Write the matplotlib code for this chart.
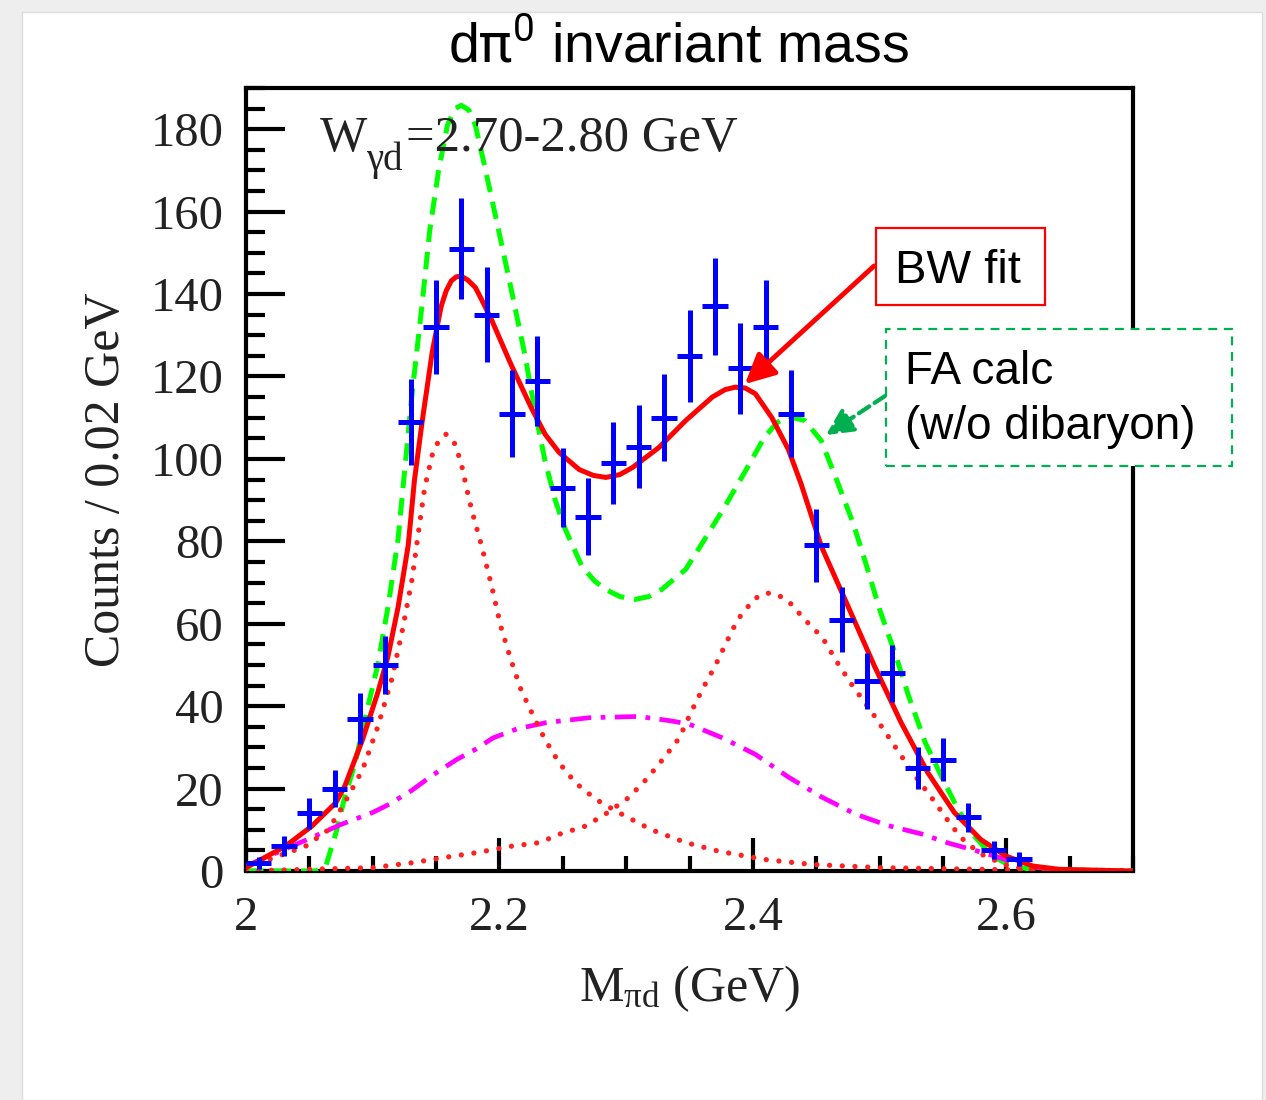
import matplotlib
matplotlib.use('Agg')
import matplotlib.pyplot as plt
from matplotlib.patches import Rectangle
from matplotlib.ticker import MultipleLocator, FixedLocator

plt.rcParams['mathtext.fontset'] = 'custom'
plt.rcParams['mathtext.rm'] = 'Liberation Serif'
plt.rcParams['mathtext.it'] = 'Liberation Serif:italic'
plt.rcParams['mathtext.sf'] = 'Roboto'
plt.rcParams['font.family'] = ['Liberation Serif', 'DejaVu Serif']

# Measured d-pi0 spectrum (bin centres, counts, stat. errors)
mass = [2.01, 2.03, 2.05, 2.07, 2.09, 2.11, 2.13, 2.15, 2.17, 2.19, 2.21, 2.23,
        2.25, 2.27, 2.29, 2.31, 2.33, 2.35, 2.37, 2.39, 2.41, 2.43, 2.45, 2.47,
        2.49, 2.51, 2.53, 2.55, 2.57, 2.59, 2.61]
counts = [2, 6, 14, 20, 37, 50, 109, 132, 151, 135, 111, 119,
          93, 86, 99, 103, 110, 125, 137, 122, 132, 111, 79, 61,
          46, 48, 25, 27, 13, 5, 3]
count_err = [1.4, 2.4, 3.7, 4.5, 6.1, 7.1, 10.4, 11.5, 12.3, 11.6, 10.5, 10.9,
             9.6, 9.3, 9.9, 10.1, 10.5, 11.2, 11.7, 11.0, 11.5, 10.5, 8.9, 7.8,
             6.8, 6.9, 5.0, 5.2, 3.6, 2.2, 1.7]
bin_half = 0.01

# BW fit (total)
fit_x = [2.00, 2.031, 2.052, 2.071, 2.078, 2.092, 2.104, 2.112, 2.120, 2.128, 2.133,
         2.139, 2.147, 2.154, 2.158, 2.162, 2.166, 2.170, 2.175, 2.181, 2.187, 2.194,
         2.209, 2.225, 2.236, 2.247, 2.263, 2.274, 2.284, 2.295, 2.305, 2.326, 2.347,
         2.368, 2.378, 2.386, 2.394, 2.402, 2.415, 2.428, 2.438, 2.454, 2.475, 2.496,
         2.517, 2.538, 2.559, 2.580, 2.600, 2.621, 2.642, 2.70]
fit_y = [0.8, 6.0, 10.9, 16.6, 20.6, 31.9, 43.3, 52.0, 64.0, 79.0, 95.0,
         109.0, 126.0, 137.0, 140.8, 143.2, 144.2, 144.3, 143.4, 141.6, 138.0, 133.6,
         123.0, 112.5, 106.0, 101.6, 97.4, 96.0, 95.5, 96.2, 97.9, 102.8, 109.3,
         115.0, 116.8, 117.4, 117.2, 115.8, 110.0, 102.3, 94.0, 78.8, 64.3, 49.7,
         36.0, 23.9, 14.2, 7.6, 3.6, 1.2, 0.4, 0.0]

# BW components
bw1_x = [2.00, 2.02, 2.047, 2.065, 2.078, 2.092, 2.104, 2.115, 2.123, 2.131, 2.136,
         2.141, 2.147, 2.152, 2.158, 2.165, 2.170, 2.174, 2.178, 2.186, 2.194, 2.201,
         2.209, 2.217, 2.228, 2.236, 2.247, 2.260, 2.276, 2.294, 2.320, 2.347, 2.373,
         2.409, 2.446, 2.50, 2.60, 2.70]
bw1_y = [1.0, 3.0, 6.0, 10.0, 16.6, 24.6, 35.0, 46.5, 57.8, 70.7, 82.0,
         93.0, 101.0, 104.4, 106.0, 103.6, 98.7, 93.0, 87.7, 78.8, 69.0, 59.4,
         51.3, 44.0, 36.8, 31.9, 26.3, 21.4, 17.4, 14.2, 10.0, 6.9, 4.8,
         2.8, 1.6, 0.8, 0.3, 0.1]
bw2_x = [2.00, 2.10, 2.131, 2.157, 2.183, 2.209, 2.232, 2.247, 2.268, 2.285, 2.302,
         2.317, 2.330, 2.342, 2.351, 2.360, 2.370, 2.379, 2.388, 2.401, 2.410, 2.419,
         2.428, 2.441, 2.455, 2.466, 2.479, 2.494, 2.510, 2.526, 2.542, 2.557, 2.568,
         2.583, 2.602, 2.62, 2.70]
bw2_y = [0.0, 0.8, 2.0, 3.3, 4.5, 6.0, 6.9, 8.9, 10.9, 14.1, 17.8,
         22.6, 27.5, 32.3, 38.4, 44.0, 49.6, 55.4, 61.0, 66.0, 67.5, 67.1,
         65.5, 61.0, 56.6, 50.9, 44.8, 38.5, 31.2, 23.9, 17.4, 10.9, 6.9,
         3.6, 1.2, 0.3, 0.0]

# broad background (dash-dot)
bg_x = [2.00, 2.033, 2.054, 2.075, 2.100, 2.113, 2.131, 2.147, 2.166, 2.181, 2.195,
        2.214, 2.237, 2.271, 2.310, 2.336, 2.350, 2.376, 2.402, 2.428, 2.454, 2.481,
        2.507, 2.533, 2.554, 2.573, 2.591, 2.607, 2.625, 2.65]
bg_y = [1.2, 5.6, 8.4, 11.3, 14.2, 16.2, 19.6, 23.2, 27.0, 29.5, 32.3,
        34.5, 36.0, 37.2, 37.5, 36.4, 35.6, 32.3, 28.3, 22.8, 18.0, 13.8,
        11.0, 9.0, 6.8, 5.2, 3.6, 2.0, 0.8, 0.2]

# FA calculation without dibaryon
fa_x = [2.00, 2.055, 2.063, 2.071, 2.078, 2.086, 2.094, 2.104, 2.112, 2.120, 2.131,
        2.139, 2.145, 2.152, 2.159, 2.165, 2.170, 2.176, 2.181, 2.188, 2.199, 2.209,
        2.220, 2.228, 2.236, 2.244, 2.252, 2.265, 2.275, 2.284, 2.295, 2.307, 2.318,
        2.328, 2.347, 2.362, 2.378, 2.394, 2.409, 2.419, 2.428, 2.441, 2.454, 2.466,
        2.479, 2.489, 2.500, 2.513, 2.523, 2.536, 2.550, 2.562, 2.575, 2.589, 2.604,
        2.620, 2.70]
fa_y = [0.0, 0.0, 1.2, 9.3, 18.0, 26.0, 37.0, 50.0, 64.0, 80.5, 115.7,
        137.6, 155.4, 170.0, 181.0, 185.0, 185.8, 184.6, 181.0, 171.5, 156.0, 141.6,
        125.4, 111.7, 99.5, 90.0, 82.9, 74.0, 70.4, 68.3, 66.6, 65.9, 66.6,
        68.3, 73.2, 80.5, 88.5, 97.0, 105.2, 108.8, 110.3, 109.3, 104.4, 95.0,
        84.5, 74.8, 63.5, 52.1, 42.4, 31.2, 22.2, 14.9, 8.4, 3.6, 1.2,
        0.4, 0.0]

W, H = 1266, 1100
fig = plt.figure(figsize=(W / 100, H / 100), dpi=100, facecolor='#eeeeee')
fig.add_artist(Rectangle((22 / W, 0), 1240 / W, 1 - 12 / H, transform=fig.transFigure,
                         facecolor='white', edgecolor='#dddddd', lw=1, zorder=0))

ax = fig.add_axes([246 / W, 1 - 871 / H, 887 / W, 783 / H])
ax.patch.set_alpha(0)

ax.plot(fa_x, fa_y, color='#00ff00', lw=3.6, linestyle=(0, (3.5, 2)), zorder=3)
ax.plot(bg_x, bg_y, color='#ff00ff', lw=3.4, linestyle=(0, (4.5, 2, 1, 2)), zorder=3)
ax.plot(bw1_x, bw1_y, color='#ff2020', lw=3.8, linestyle=(0, (0.01, 2.4)),
        dash_capstyle='round', zorder=3)
ax.plot(bw2_x, bw2_y, color='#ff2020', lw=3.8, linestyle=(0, (0.01, 2.4)),
        dash_capstyle='round', zorder=3)
ax.plot(fit_x, fit_y, color='#ff0000', lw=3.6, zorder=4)
ax.errorbar(mass, counts, yerr=count_err, xerr=bin_half, fmt='none',
            ecolor='#0000ff', elinewidth=3.6, capsize=0, zorder=5)

ax.set_xlim(2.0, 2.7)
ax.set_ylim(0, 190)
ax.xaxis.set_major_locator(FixedLocator([2.0, 2.2, 2.4, 2.6]))
ax.set_xticklabels(['2', '2.2', '2.4', '2.6'])
ax.xaxis.set_minor_locator(MultipleLocator(0.05))
ax.yaxis.set_major_locator(MultipleLocator(20))
ax.yaxis.set_minor_locator(MultipleLocator(5))
ax.tick_params(which='both', direction='in', top=False, right=False, width=3,
               color='black', labelsize=35, labelcolor='#222222')
ax.tick_params(axis='y', which='major', length=28, pad=16)
ax.tick_params(axis='y', which='minor', length=14)
ax.tick_params(axis='x', which='major', length=24, pad=18)
ax.tick_params(axis='x', which='minor', length=11)
for s in ax.spines.values():
    s.set_linewidth(3)

ax.set_ylabel('Counts / 0.02 GeV', fontsize=36, color='#222222')
ax.yaxis.set_label_coords(-0.131, 0.5)
ax.set_xlabel(r'M$_{\mathrm{\pi d}}$ (GeV)', fontsize=36, color='#222222', va='top')
ax.xaxis.set_label_coords(0.5, -0.118)


def fpos(px, py):
    return (px / W, 1 - py / H)


# W label inside the frame, built from pieces so the subscript sits low
fig.text(*fpos(320, 151), 'W', fontsize=36, color='#222222', va='baseline', zorder=6)
fig.text(*fpos(366, 170), 'γd', fontsize=28, color='#222222', va='baseline', zorder=6)
fig.text(*fpos(406, 151), '=2.70-2.80 GeV', fontsize=36.5, color='#222222',
         va='baseline', zorder=6)

fig.text(678 / W, 1 - 47 / H, r'd$\mathsf{\pi^{0}}$ invariant mass',
         family=['Liberation Sans', 'DejaVu Sans'], fontsize=40, ha='center', va='center')

sans = ['Liberation Sans', 'DejaVu Sans']

# BW fit label
fig.add_artist(Rectangle(fpos(876, 305), 169 / W, 77 / H, transform=fig.transFigure,
                         facecolor='white', edgecolor='#ff0000', lw=1.6, zorder=10))
fig.text(*fpos(895, 283), 'BW fit', family=sans, fontsize=34, ha='left', va='baseline',
         zorder=11)
fig.add_artist(plt.Annotation('', xy=fpos(745, 384), xycoords='figure fraction',
                              xytext=fpos(874, 266), textcoords='figure fraction',
                              arrowprops=dict(arrowstyle='-|>,head_length=0.9,head_width=0.45',
                                              color='#ff0000', lw=3.5, mutation_scale=20,
                                              shrinkA=0, shrinkB=0), zorder=11))

# FA calc label
fig.add_artist(Rectangle(fpos(886, 466), 346 / W, 137 / H, transform=fig.transFigure,
                         facecolor='white', edgecolor='#00b050', lw=1.6,
                         linestyle=(0, (4, 3)), zorder=10))
fig.text(*fpos(905, 384), 'FA calc', family=sans, fontsize=33, ha='left', va='baseline',
         zorder=11)
fig.text(*fpos(905, 439), '(w/o dibaryon)', family=sans, fontsize=33, ha='left',
         va='baseline', zorder=11)
fig.add_artist(plt.Annotation('', xy=fpos(826, 435), xycoords='figure fraction',
                              xytext=fpos(885, 396), textcoords='figure fraction',
                              arrowprops=dict(arrowstyle='-|>,head_length=0.9,head_width=0.45',
                                              color='#00b050', lw=3, linestyle=(0, (3, 1.5)),
                                              mutation_scale=18, shrinkA=0, shrinkB=0),
                              zorder=11))

fig.savefig('out.png', dpi=100, facecolor=fig.get_facecolor())
